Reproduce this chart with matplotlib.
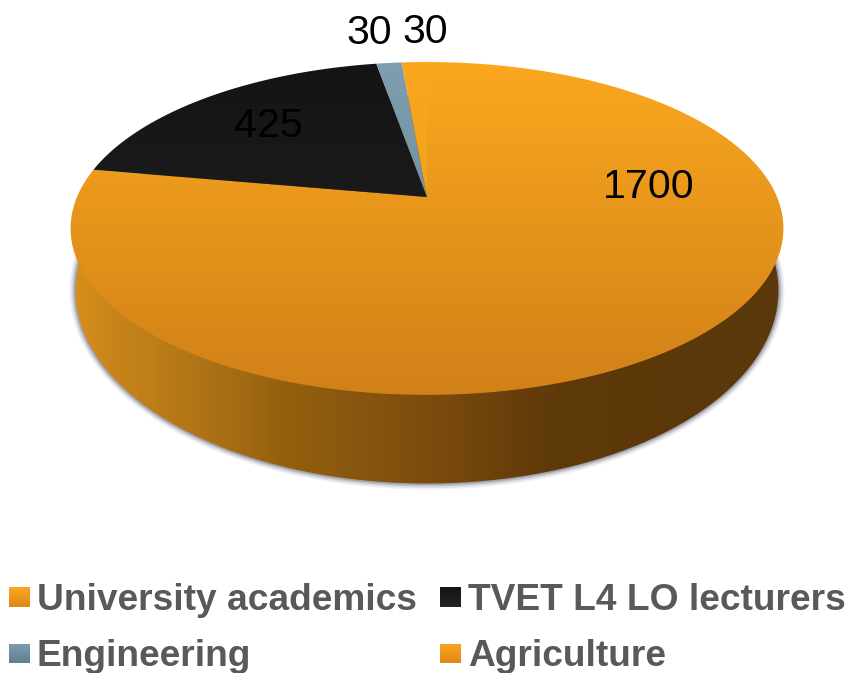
import numpy as np
import matplotlib
matplotlib.use('Agg')
import matplotlib.pyplot as plt
from matplotlib.colors import LinearSegmentedColormap
from matplotlib.patches import Polygon, Rectangle

# data
categories = ['University academics', 'TVET L4 LO lecturers', 'Engineering', 'Agriculture']
values = [1700, 425, 30, 30]
top_colors = [('#fba81f', '#d08018'), ('#141414', '#242424'), ('#7f9fb0', '#5f7f90'), ('#fba81f', '#e8951c')]

plt.rcParams['font.family'] = ['Liberation Sans', 'DejaVu Sans']

fig = plt.figure(figsize=(8.5, 6.73), dpi=100)
ax = fig.add_axes([0, 0, 1, 1])
ax.set_xlim(0, 850)
ax.set_ylim(673, 0)
ax.axis('off')

# pie geometry in pixels, apex of the wedges and perspective of the disc
cx, cy = 427, 197
a, d, k = 350, 160.5, 0.189


def disc(theta):
    # angle clockwise from the top, in radians
    u, v = np.sin(theta), np.cos(theta)
    w = 1 + k * v
    return cx + a * u / w, cy - d * v / w


def base(theta, grow=0):
    # lower rim of the pie, a little narrower than the top but deeper
    x, y = disc(theta)
    return cx + (x - cx) * (352 + grow) / 357, 290 + (y - 228) * (193 + grow) / 166.5


def gradient(patch, c0, c1, extent, horizontal=False, zorder=2):
    cmap = LinearSegmentedColormap.from_list('g', [c0, c1] if isinstance(c0, str) else c0)
    g = np.linspace(0, 1, 256)
    g = g[None, :] if horizontal else g[:, None]
    im = ax.imshow(g, cmap=cmap, extent=extent, aspect='auto', zorder=zorder, interpolation='bilinear')
    ax.add_patch(patch)
    patch.set_visible(False)
    im.set_clip_path(patch)


t = np.radians(np.linspace(0, 360, 600))

# soft shadow under the side
for grow, alpha in [(6, 0.07), (4.5, 0.10), (3, 0.16), (1.5, 0.25)]:
    x, y = base(t, grow)
    ax.add_patch(Polygon(np.column_stack([x, y]), closed=True, fc='#3c3c58', ec='none',
                         alpha=alpha, zorder=1))

# side of the pie
side_stops = [(0.0, '#d8901c'), (0.06, '#c8841a'), (0.14, '#b87a18'), (0.3, '#94600f'),
              (0.5, '#7c4c0e'), (0.68, '#5e390a'), (1.0, '#5a3809')]
x, y = base(t)
gradient(Polygon(np.column_stack([x, y]), closed=True), side_stops, None, (72, 782, 500, 60), horizontal=True)

# top of the pie, wedges clockwise from 12 o'clock
fracs = np.array(values) / sum(values)
edges = np.r_[0, np.cumsum(fracs)] * 2 * np.pi
for i in range(len(values)):
    t = np.linspace(edges[i], edges[i + 1], 300)
    x, y = disc(t)
    pts = np.column_stack([np.r_[cx, x], np.r_[cy, y]])
    c0, c1 = top_colors[i]
    gradient(Polygon(pts, closed=True), c0, c1, (60, 790, 400, 60), zorder=3)

# data labels
label_x = [649, 268, 369, 425]
label_y = [187, 126, 33, 32]
for i in range(len(values)):
    ax.text(label_x[i], label_y[i], str(values[i]), fontsize=29.6, color='black',
            ha='center', va='center', zorder=5)

# legend
leg_x = [9, 440, 9, 440]
leg_y = [597, 597, 653.5, 653.5]
for i in range(len(categories)):
    c0, c1 = top_colors[i]
    if i == 0 or i == 3:
        c1 = '#e0861a'
    rect = Rectangle((leg_x[i], leg_y[i] - 10), 21, 20)
    gradient(rect, c0, c1, (leg_x[i], leg_x[i] + 21, leg_y[i] + 10, leg_y[i] - 10), zorder=4)
    ax.text(leg_x[i] + 28, leg_y[i] + 3, categories[i], fontsize=26.7, fontweight='bold',
            color='#595959', ha='left', va='center', zorder=5)

ax.set_xlim(0, 850)
ax.set_ylim(673, 0)
fig.savefig('out.png', dpi=100)
